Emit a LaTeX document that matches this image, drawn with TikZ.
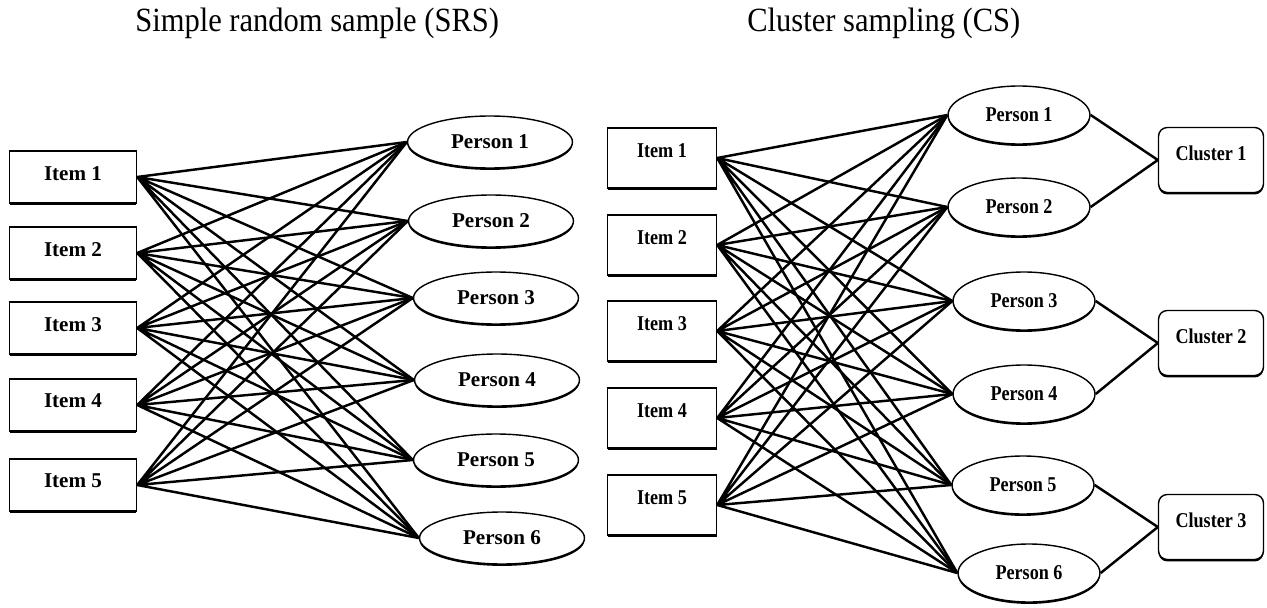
\documentclass[tikz,border=0pt]{standalone}
\usepackage{fontspec}
\setmainfont{Liberation Serif}
\newfontfamily\narrowfont[FakeStretch=0.86]{Liberation Serif}
\newfontfamily\titlefont[FakeStretch=0.9]{Liberation Serif}
\usetikzlibrary{shapes.geometric,shadows}

\begin{document}
\begin{tikzpicture}[x=0.02cm,y=-0.02cm]
\tikzstyle{every node}+=[inner sep=0pt]
\tikzstyle{shade}=[drop shadow={shadow xshift=0pt,shadow yshift=-1.1pt,opacity=1,fill=black}]
\tikzstyle{itembox}=[draw=black,fill=white,line width=0.8pt,shade,font=\bfseries\fontsize{12}{14}\selectfont]
\tikzstyle{person}=[ellipse,draw=black,fill=white,line width=0.8pt,shade,font=\bfseries\fontsize{12}{14}\selectfont]
\tikzstyle{narrow}=[font=\narrowfont\bfseries\fontsize{12}{14}\selectfont]
\tikzstyle{edge}=[black,line width=1.4pt]
\useasboundingbox (0,0) rectangle (1267,608);
% titles
\node [anchor=base west,font=\titlefont\fontsize{19.3}{22}\selectfont] (srs) at (135,32) {Simple random sample (SRS)};
\node [anchor=base west,font=\titlefont\fontsize{19.3}{22}\selectfont] (cs) at (747,32) {Cluster sampling (CS)};
% simple random sample
\node [itembox,text depth=4.5pt,minimum width=2.54cm,minimum height=1.04cm] (i1) at (73,177) {Item 1};
\node [itembox,text depth=4.5pt,minimum width=2.54cm,minimum height=1.04cm] (i2) at (73,253) {Item 2};
\node [itembox,text depth=4.5pt,minimum width=2.54cm,minimum height=1.04cm] (i3) at (73,328) {Item 3};
\node [itembox,text depth=4.5pt,minimum width=2.54cm,minimum height=1.04cm] (i4) at (73,405) {Item 4};
\node [itembox,text depth=4.5pt,minimum width=2.54cm,minimum height=1.04cm] (i5) at (73,485) {Item 5};
\node [person,minimum width=3.3cm,minimum height=1.04cm] (p1) at (490,142) {Person 1};
\node [person,minimum width=3.3cm,minimum height=1.04cm] (p2) at (491,221) {Person 2};
\node [person,minimum width=3.3cm,minimum height=1.04cm] (p3) at (496,298) {Person 3};
\node [person,minimum width=3.3cm,minimum height=1.04cm] (p4) at (497,380) {Person 4};
\node [person,minimum width=3.3cm,minimum height=1.04cm] (p5) at (496,460) {Person 5};
\node [person,minimum width=3.3cm,minimum height=1.04cm] (p6) at (502,538) {Person 6};
\draw [edge] (i1.east) -- (p1.west) (i1.east) -- (p2.west) (i1.east) -- (p3.west) (i1.east) -- (p4.west) (i1.east) -- (p5.west) (i1.east) -- (p6.west);
\draw [edge] (i2.east) -- (p1.west) (i2.east) -- (p2.west) (i2.east) -- (p3.west) (i2.east) -- (p4.west) (i2.east) -- (p5.west) (i2.east) -- (p6.west);
\draw [edge] (i3.east) -- (p1.west) (i3.east) -- (p2.west) (i3.east) -- (p3.west) (i3.east) -- (p4.west) (i3.east) -- (p5.west) (i3.east) -- (p6.west);
\draw [edge] (i4.east) -- (p1.west) (i4.east) -- (p2.west) (i4.east) -- (p3.west) (i4.east) -- (p4.west) (i4.east) -- (p5.west) (i4.east) -- (p6.west);
\draw [edge] (i5.east) -- (p1.west) (i5.east) -- (p2.west) (i5.east) -- (p3.west) (i5.east) -- (p4.west) (i5.east) -- (p5.west) (i5.east) -- (p6.west);
% cluster sampling
\node [itembox,narrow,text depth=9pt,minimum width=2.18cm,minimum height=1.2cm] (j1) at (662,158) {Item 1};
\node [itembox,narrow,text depth=9pt,minimum width=2.18cm,minimum height=1.2cm] (j2) at (662,245) {Item 2};
\node [itembox,narrow,text depth=9pt,minimum width=2.18cm,minimum height=1.2cm] (j3) at (662,331) {Item 3};
\node [itembox,narrow,text depth=9pt,minimum width=2.18cm,minimum height=1.2cm] (j4) at (662,418) {Item 4};
\node [itembox,narrow,text depth=9pt,minimum width=2.18cm,minimum height=1.2cm] (j5) at (662,505) {Item 5};
\node [person,narrow,minimum width=2.84cm,minimum height=1.16cm] (q1) at (1019,115) {Person 1};
\node [person,narrow,minimum width=2.84cm,minimum height=1.16cm] (q2) at (1019,207) {Person 2};
\node [person,narrow,minimum width=2.84cm,minimum height=1.16cm] (q3) at (1024,301) {Person 3};
\node [person,narrow,minimum width=2.84cm,minimum height=1.16cm] (q4) at (1024,394) {Person 4};
\node [person,narrow,minimum width=2.84cm,minimum height=1.16cm] (q5) at (1023,485) {Person 5};
\node [person,narrow,minimum width=2.84cm,minimum height=1.16cm] (q6) at (1029,573) {Person 6};
\node [itembox,narrow,text depth=8pt,rounded corners=5pt,minimum width=2.1cm,minimum height=1.3cm] (c1) at (1211,160) {Cluster 1};
\node [itembox,narrow,text depth=8pt,rounded corners=5pt,minimum width=2.1cm,minimum height=1.3cm] (c2) at (1211,343) {Cluster 2};
\node [itembox,narrow,text depth=8pt,rounded corners=5pt,minimum width=2.1cm,minimum height=1.3cm] (c3) at (1211,527) {Cluster 3};
\draw [edge] (j1.east) -- (q1.west) (j1.east) -- (q2.west) (j1.east) -- (q3.west) (j1.east) -- (q4.west) (j1.east) -- (q5.west) (j1.east) -- (q6.west);
\draw [edge] (j2.east) -- (q1.west) (j2.east) -- (q2.west) (j2.east) -- (q3.west) (j2.east) -- (q4.west) (j2.east) -- (q5.west) (j2.east) -- (q6.west);
\draw [edge] (j3.east) -- (q1.west) (j3.east) -- (q2.west) (j3.east) -- (q3.west) (j3.east) -- (q4.west) (j3.east) -- (q5.west) (j3.east) -- (q6.west);
\draw [edge] (j4.east) -- (q1.west) (j4.east) -- (q2.west) (j4.east) -- (q3.west) (j4.east) -- (q4.west) (j4.east) -- (q5.west) (j4.east) -- (q6.west);
\draw [edge] (j5.east) -- (q1.west) (j5.east) -- (q2.west) (j5.east) -- (q3.west) (j5.east) -- (q4.west) (j5.east) -- (q5.west) (j5.east) -- (q6.west);
\draw [edge] (q1.east) -- (c1.west) (q2.east) -- (c1.west);
\draw [edge] (q3.east) -- (c2.west) (q4.east) -- (c2.west);
\draw [edge] (q5.east) -- (c3.west) (q6.east) -- (c3.west);
\end{tikzpicture}
\end{document}
